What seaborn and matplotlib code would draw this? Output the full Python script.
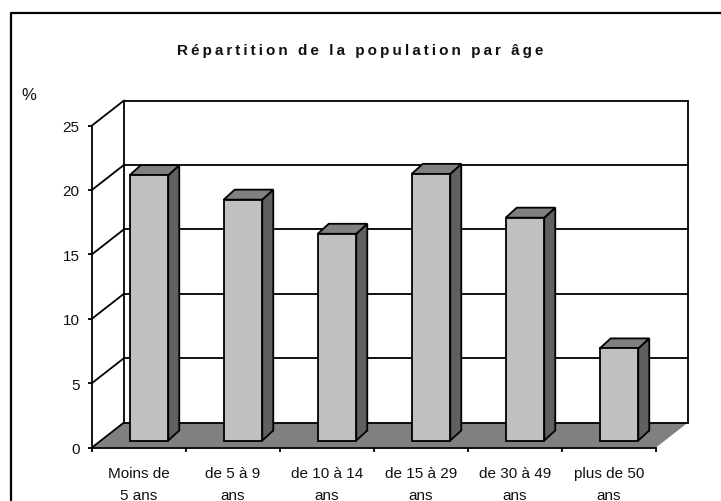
import matplotlib
matplotlib.use("Agg")
import matplotlib.pyplot as plt
from matplotlib.lines import Line2D
from matplotlib.patches import Polygon
from matplotlib.transforms import Affine2D
import seaborn as sns

categories = ["Moins de\n5 ans", "de 5 à 9\nans", "de 10 à 14\nans",
              "de 15 à 29\nans", "de 30 à 49\nans", "plus de 50\nans"]
values = [20.6, 18.7, 16.05, 20.7, 17.3, 7.15]
y_ticks = [0, 5, 10, 15, 20, 25]
title = "Répartition de la population par âge"

W, H = 721, 502
sns.set_style("white")
plt.rcParams['font.family'] = ['Liberation Sans', 'DejaVu Sans']

LW = 1.3
DEPTH_X, DEPTH_Y = 32, 25
PX_X, PX_Y = 94, 12.88  # pixels per category, pixels per percent
fig = plt.figure(figsize=(W / 100, H / 100), dpi=100)


def px_axes(left, bottom, width, height):
    # pixel box measured from the top left of the image
    return fig.add_axes([left / W, (H - bottom) / H, width / W, height / H])


# wall and floor axes, bars sit in their own axes a bit further back
ax = px_axes(92, 448.5, 564, 322)
ax_bars = px_axes(102, 441.5, 564, 322)
for a in (ax, ax_bars):
    a.patch.set_alpha(0)

back = ax.transData + Affine2D().translate(DEPTH_X, DEPTH_Y)
bx, by = DEPTH_X / PX_X, DEPTH_Y / PX_Y

ax.set_xlim(-0.5, 5.5)
ax.set_ylim(0, 25)
ax.add_patch(Polygon([(-0.5, 0), (5.5, 0), (5.5 + bx, by), (-0.5 + bx, by)],
                     closed=True, fc="#808080", ec="none", clip_on=False, zorder=1))
for t in y_ticks:
    ax.add_line(Line2D([-0.5, 5.5], [t, t], transform=back, color="k", lw=LW, clip_on=False, zorder=2))
    ax.plot([-0.5, -0.5 + bx], [t, t + by], color="k", lw=LW, clip_on=False, zorder=2)
for xb in (-0.5, 5.5):
    ax.add_line(Line2D([xb, xb], [0, 25], transform=back, color="k", lw=LW, clip_on=False, zorder=2))

sns.despine(ax=ax, top=True, right=True)
for side in ("left", "bottom"):
    ax.spines[side].set_linewidth(LW)
    ax.spines[side].set_color("k")
ax.set_yticks(y_ticks)
ax.set_xticks([i - 0.5 for i in range(7)])
ax.set_xticklabels([])
ax.tick_params(axis="both", length=3, width=LW, color="k", bottom=True, left=True, labelsize=11, pad=6,
               labelcolor="#111111")
for i, c in enumerate(categories):
    ax.text(i, -36.5 / PX_Y, c, ha="center", va="center", fontsize=11, color="#111111",
            linespacing=1.72, clip_on=False)

sns.barplot(x=categories, y=values, ax=ax_bars, color="#C0C0C0", saturation=1,
            width=0.41, edgecolor="k", linewidth=LW, clip_on=False, zorder=3)
ax_bars.set_xlim(-0.5, 5.5)
ax_bars.set_ylim(0, 25)
ax_bars.axis("off")

dx, dy = 11 / PX_X, 10 / PX_Y
for p in list(ax_bars.patches):
    x0, x1, h = p.get_x(), p.get_x() + p.get_width(), p.get_height()
    ax_bars.add_patch(Polygon([(x1, 0), (x1 + dx, dy), (x1 + dx, h + dy), (x1, h)], closed=True,
                              fc="#606060", ec="k", lw=LW, clip_on=False, zorder=2.9))
    ax_bars.add_patch(Polygon([(x0, h), (x0 + dx, h + dy), (x1 + dx, h + dy), (x1, h)], closed=True,
                              fc="#808080", ec="k", lw=LW, clip_on=False, zorder=2.9))

# chart frame, only left and top are inside the picture
fig.add_artist(Line2D([11 / W, 11 / W, 1], [0, (H - 14) / H, (H - 14) / H], color="k", lw=1.6))

fig.text(360.5 / W, (H - 50.5) / H, "\u2009".join(title), ha="center", va="center",
         fontsize=11, fontweight="bold", color="#111111")
fig.text(29 / W, (H - 96) / H, "%", ha="center", va="center", fontsize=12, color="#111111")

fig.savefig("out.png", dpi=100)
